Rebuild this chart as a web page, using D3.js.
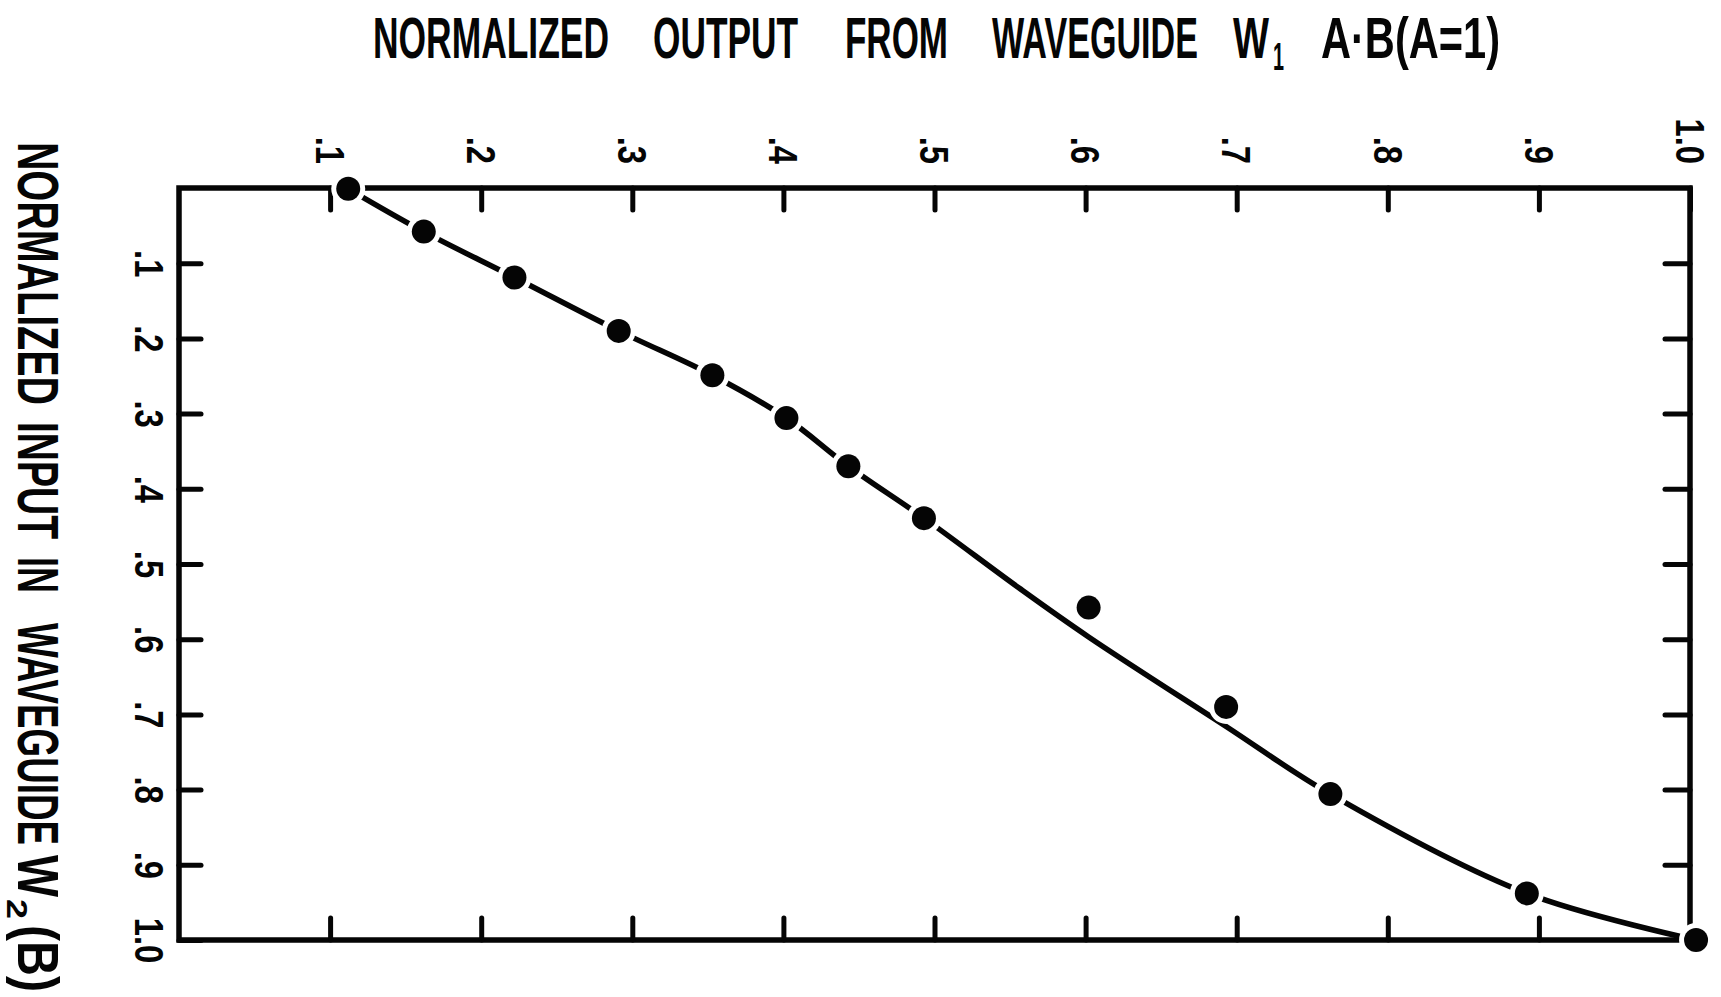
<!DOCTYPE html>
<html>
<head>
<meta charset="utf-8">
<script src="https://cdn.jsdelivr.net/npm/d3@7"></script>
<style>
  html, body { margin: 0; padding: 0; background: #fff; }
  svg { display: block; }
  .lbl { font-family: 'Liberation Sans', Arial, sans-serif; font-weight: bold; fill: #050505; }
</style>
</head>
<body>
<div id="chart"></div>
<script>
// measured points (x = normalized output W1, y = normalized input W2)
const dotX = [0.112, 0.162, 0.222, 0.291, 0.353, 0.402, 0.443, 0.493, 0.602, 0.693, 0.762, 0.892, 1.004];
const dotY = [0.001, 0.058, 0.119, 0.190, 0.249, 0.306, 0.370, 0.439, 0.558, 0.690, 0.806, 0.938, 1.000];

// hand drawn curve through the data
const curveX = [0.112, 0.162, 0.222, 0.291, 0.353, 0.402, 0.443, 0.493, 0.556, 0.602, 0.693, 0.762, 0.892, 1.004];
const curveY = [0.001, 0.058, 0.119, 0.190, 0.249, 0.306, 0.370, 0.439, 0.532, 0.597, 0.716, 0.806, 0.938, 1.000];

const xTickValues = [0.1, 0.2, 0.3, 0.4, 0.5, 0.6, 0.7, 0.8, 0.9, 1.0];
const xTickLabels = ['.1', '.2', '.3', '.4', '.5', '.6', '.7', '.8', '.9', '1.0'];
const yTickValues = [0.1, 0.2, 0.3, 0.4, 0.5, 0.6, 0.7, 0.8, 0.9, 1.0];
const yTickLabels = ['.1', '.2', '.3', '.4', '.5', '.6', '.7', '.8', '.9', '1.0'];
const minorTicks = [0.1, 0.2, 0.3, 0.4, 0.5, 0.6, 0.7, 0.8, 0.9];

const titleWords = ['NORMALIZED', 'OUTPUT', 'FROM', 'WAVEGUIDE', 'W', 'A\u00B7B(A=1)'];
const yTitleWords = ['NORMALIZED', 'INPUT', 'IN', 'WAVEGUIDE', 'W', '(B)'];

// layout (pixel spans of each lettered word)
const titleSpans = [[373, 609], [653, 798], [845, 948], [992, 1198], [1233, 1269], [1321, 1500]];
const yTitleSpans = [[142, 405], [422, 539], [557, 593], [623, 845], [855, 897], [925, 992]];

const width = 1721, height = 997;
const ink = '#050505';

const svg = d3.select('#chart')
  .append('svg')
    .attr('width', width)
    .attr('height', height);

svg.append('rect').attr('width', width).attr('height', height).attr('fill', '#fff');

const x = d3.scaleLinear().domain([0, 1]).range([179, 1690]);
const y = d3.scaleLinear().domain([0, 1]).range([188, 940]);

// frame
svg.append('rect')
  .attr('x', x(0))
  .attr('y', y(0))
  .attr('width', x(1) - x(0))
  .attr('height', y(1) - y(0))
  .attr('fill', 'none')
  .attr('stroke', ink)
  .attr('stroke-width', 5.5);

function styleAxis(g) {
  g.attr('font-size', null).attr('font-family', null);
  g.select('.domain').remove();
  g.selectAll('.tick line')
    .attr('stroke', ink)
    .attr('stroke-width', 5)
    .attr('stroke-linecap', 'round');
  g.selectAll('.tick text')
    .attr('class', 'lbl')
    .attr('font-size', 41)
    .attr('fill', ink)
    .attr('x', null)
    .attr('y', null);
}

// top axis, labels turned with the sheet
const topAxis = svg.append('g')
  .attr('transform', 'translate(0,' + y(0) + ')')
  .call(d3.axisTop(x)
    .tickValues(xTickValues)
    .tickSizeInner(-22)
    .tickSizeOuter(0)
    .tickFormat((d, i) => xTickLabels[i]));
styleAxis(topAxis);
topAxis.selectAll('.tick text')
  .attr('transform', 'translate(0,' + (164 - y(0)) + ') rotate(90) scale(0.8,1)')
  .attr('text-anchor', 'end')
  .attr('dy', '0.36em');

// left axis
const leftAxis = svg.append('g')
  .attr('transform', 'translate(' + x(0) + ',0)')
  .call(d3.axisLeft(y)
    .tickValues(yTickValues)
    .tickSizeInner(-22)
    .tickSizeOuter(0)
    .tickFormat((d, i) => yTickLabels[i]));
styleAxis(leftAxis);
leftAxis.selectAll('.tick text')
  .attr('transform', 'translate(' + (150 - x(0)) + ',0) rotate(90) scale(0.8,1)')
  .attr('text-anchor', 'middle')
  .attr('dy', '0.36em');

// right and bottom ticks, no labels
const rightAxis = svg.append('g')
  .attr('transform', 'translate(' + x(1) + ',0)')
  .call(d3.axisRight(y).tickValues(minorTicks).tickSizeInner(-25).tickSizeOuter(0).tickFormat(''));
styleAxis(rightAxis);

const bottomAxis = svg.append('g')
  .attr('transform', 'translate(0,' + y(1) + ')')
  .call(d3.axisBottom(x).tickValues(minorTicks).tickSizeInner(-22).tickSizeOuter(0).tickFormat(''));
styleAxis(bottomAxis);

// curve
const curvePts = curveX.map((d, i) => [d, curveY[i]]);
svg.append('path')
  .datum(curvePts)
  .attr('fill', 'none')
  .attr('stroke', ink)
  .attr('stroke-width', 5.5)
  .attr('stroke-linecap', 'round')
  .attr('d', d3.line()
    .x(d => x(d[0]))
    .y(d => y(d[1]))
    .curve(d3.curveCatmullRom.alpha(0.5)));

// points: the drawn line is broken around the dots it passes through
const dots = dotX.map((d, i) => ({ x: d, y: dotY[i], onCurve: curveX.includes(d) }));

svg.append('g')
  .selectAll('circle')
  .data(dots.filter(d => d.onCurve))
  .enter()
  .append('circle')
    .attr('cx', d => x(d.x))
    .attr('cy', d => y(d.y))
    .attr('r', 17)
    .attr('fill', '#fff');

svg.append('g')
  .selectAll('circle')
  .data(dots)
  .enter()
  .append('circle')
    .attr('cx', d => x(d.x))
    .attr('cy', d => y(d.y))
    .attr('r', 12)
    .attr('fill', ink);

// title across the top
const title = svg.append('g');
titleWords.forEach((w, i) => {
  title.append('text')
    .attr('class', 'lbl')
    .attr('x', titleSpans[i][0])
    .attr('y', 58)
    .attr('font-size', 58)
    .attr('textLength', titleSpans[i][1] - titleSpans[i][0])
    .attr('lengthAdjust', 'spacingAndGlyphs')
    .text(w);
});
title.append('text')
  .attr('class', 'lbl')
  .attr('x', 1273)
  .attr('y', 70)
  .attr('font-size', 38)
  .attr('textLength', 11)
  .attr('lengthAdjust', 'spacingAndGlyphs')
  .text('1');

// vertical label down the left side
const yTitle = svg.append('g');
yTitleWords.forEach((w, i) => {
  yTitle.append('text')
    .attr('class', 'lbl')
    .attr('transform', 'translate(18,' + yTitleSpans[i][0] + ') rotate(90)')
    .attr('font-size', 57)
    .attr('textLength', yTitleSpans[i][1] - yTitleSpans[i][0])
    .attr('lengthAdjust', 'spacingAndGlyphs')
    .text(w);
});
yTitle.append('text')
  .attr('class', 'lbl')
  .attr('transform', 'translate(7,899) rotate(90)')
  .attr('font-size', 30)
  .attr('textLength', 20)
  .attr('lengthAdjust', 'spacingAndGlyphs')
  .text('2');
</script>
</body>
</html>
